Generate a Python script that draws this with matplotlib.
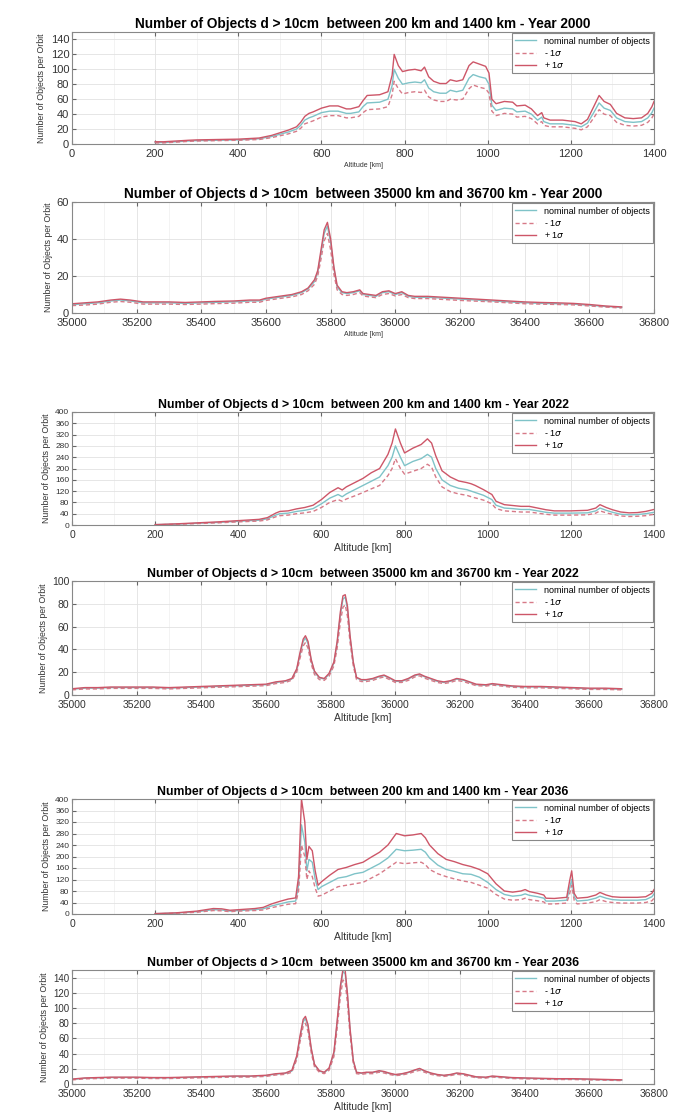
import matplotlib
matplotlib.use("Agg")
import matplotlib.pyplot as plt
from matplotlib.ticker import MultipleLocator

plt.rcParams["font.family"] = ["Liberation Sans", "DejaVu Sans"]

# ---------- LEO 2000 ----------
alt_leo_2000 = [200, 220, 250, 280, 300, 350, 400, 450, 480, 500, 520, 540, 550, 560, 570,
                580, 600, 620, 640, 660, 670, 690, 700, 710, 740, 760, 770, 775, 785, 795,
                810, 825, 840, 848, 858, 870, 885, 900, 910, 925, 940, 955, 965, 980, 995,
                1003, 1010, 1020, 1040, 1060, 1070, 1090, 1105, 1120, 1130, 1135, 1150, 1180,
                1210, 1225, 1240, 1255, 1268, 1280, 1295, 1310, 1330, 1350, 1370, 1385, 1395, 1400]
nom_leo_2000 = [2, 2, 3, 4, 4.5, 5, 5.5, 7, 10, 13, 16, 20, 25, 32, 35,
                37, 42, 44, 44, 41, 41, 43, 50, 55, 56, 60, 78, 100, 88, 80,
                82, 83, 82, 86, 75, 70, 68, 68, 72, 70, 72, 88, 93, 90, 88,
                80, 52, 45, 48, 47, 43, 44, 40, 32, 36, 30, 27, 27,
                25, 23, 28, 42, 55, 48, 45, 35, 30, 29, 30, 35, 42, 48]
hi_leo_2000 = [3, 3, 4, 5, 5.5, 6, 6.5, 8, 11.5, 15, 18.5, 23, 29, 37, 41,
               43, 48, 51, 51, 47, 47, 50, 58, 65, 66, 70, 92, 120, 105, 97,
               99, 100, 98, 103, 90, 84, 81, 81, 86, 84, 86, 105, 110, 107, 104,
               95, 60, 54, 57, 56, 51, 52, 47, 38, 42, 35, 32, 32,
               30, 27, 33, 50, 65, 57, 53, 41, 35, 34, 35, 41, 50, 57]
lo_leo_2000 = [1.5, 1.5, 2.5, 3.5, 4, 4.5, 5, 6, 8.5, 11, 13.5, 17, 21, 27, 29,
               31, 36, 38, 38, 35, 35, 37, 42, 46, 47, 50, 66, 84, 74, 67,
               69, 70, 69, 72, 63, 59, 57, 57, 60, 59, 60, 74, 79, 76, 74,
               68, 44, 38, 41, 40, 36, 37, 34, 27, 30, 25, 23, 23,
               21, 19, 23, 35, 46, 40, 38, 29, 25, 24, 25, 29, 35, 40]

# ---------- GEO 2000 ----------
alt_geo_2000 = [35000, 35040, 35080, 35120, 35150, 35180, 35220, 35260, 35300, 35350,
                35400, 35450, 35500, 35550, 35580, 35600, 35640, 35680, 35710, 35730,
                35750, 35760, 35770, 35780, 35790, 35800, 35810, 35820, 35835, 35850,
                35870, 35890, 35900, 35920, 35940, 35960, 35980, 36000, 36020, 36040,
                36060, 36100, 36150, 36200, 36250, 36300, 36350, 36400, 36450, 36500,
                36550, 36600, 36650, 36700]
nom_geo_2000 = [4.5, 5, 5.5, 6.5, 7, 6.5, 5.5, 5.5, 5.5, 5.2,
                5.5, 5.8, 6, 6.5, 6.5, 7.5, 8.5, 9.5, 11, 13,
                17, 22, 32, 43, 47, 38, 24, 14, 11, 10.5,
                11, 12, 10, 9.5, 9, 11, 11.5, 10, 11, 9,
                8.5, 8.5, 8, 7.5, 7, 6.5, 6, 5.5, 5.2, 5,
                4.8, 4.2, 3.5, 3]
hi_geo_2000 = [5, 5.5, 6, 7, 7.5, 7, 6, 6, 6, 5.7,
               6, 6.3, 6.5, 7, 7, 8, 9, 10, 11.5, 13.5,
               18, 23, 34, 45, 49, 40, 25, 15, 11.5, 11,
               11.5, 12.5, 10.5, 10, 9.5, 11.5, 12, 10.5, 11.5, 9.5,
               9, 9, 8.5, 8, 7.5, 7, 6.5, 6, 5.7, 5.5,
               5.2, 4.6, 3.8, 3.3]
lo_geo_2000 = [4, 4.3, 4.8, 5.8, 6.2, 5.8, 4.8, 4.8, 4.8, 4.6,
               4.8, 5.1, 5.3, 5.8, 5.8, 6.8, 7.8, 8.7, 10, 12,
               15.5, 20, 29, 39, 43, 34, 21, 12.5, 10, 9.5,
               10, 11, 9.2, 8.7, 8.3, 10, 10.5, 9.2, 10, 8.3,
               7.8, 7.8, 7.3, 6.8, 6.4, 6, 5.5, 5, 4.8, 4.6,
               4.4, 3.8, 3.2, 2.7]

# ---------- LEO 2022 ----------
alt_leo_2022 = [200, 250, 300, 350, 400, 450, 470, 490, 500, 520, 540, 560, 580, 600, 620,
                640, 650, 660, 680, 700, 720, 740, 760, 770, 778, 790, 800, 820, 840, 855,
                865, 875, 890, 910, 930, 950, 960, 970, 990, 1010, 1020, 1040, 1060, 1080,
                1100, 1120, 1140, 1160, 1200, 1240, 1260, 1270, 1285, 1300, 1320, 1340,
                1360, 1380, 1400]
nom_leo_2022 = [1, 3, 6, 9, 13, 17, 22, 35, 40, 42, 48, 52, 58, 75, 95,
                108, 100, 110, 125, 140, 155, 170, 210, 240, 280, 240, 210, 225, 235, 250,
                240, 200, 160, 140, 130, 125, 120, 115, 105, 90, 70, 60, 58, 55,
                55, 50, 45, 42, 42, 43, 50, 60, 52, 45, 38, 36,
                37, 40, 45]
hi_leo_2022 = [1.5, 4, 7.5, 11, 15.5, 20, 26, 42, 48, 50, 57, 62, 70, 90, 115,
               132, 124, 135, 150, 165, 185, 200, 250, 290, 340, 290, 255, 272, 285, 305,
               290, 245, 192, 170, 156, 150, 146, 140, 125, 108, 84, 72, 69, 66,
               66, 60, 54, 50, 50, 52, 60, 72, 62, 54, 46, 43,
               44, 48, 55]
lo_leo_2022 = [0.5, 2.5, 5, 7.5, 11, 14, 18, 29, 33, 35, 40, 43, 48, 62, 80,
               90, 84, 92, 103, 115, 128, 140, 175, 200, 235, 200, 180, 190, 200, 215,
               205, 170, 135, 118, 110, 105, 100, 96, 88, 75, 58, 50, 48, 46,
               46, 42, 38, 35, 35, 36, 42, 50, 43, 38, 32, 30,
               31, 33, 38]

# ---------- GEO 2022 / 2036 (same altitude bins) ----------
alt_geo_2022 = [35000, 35040, 35080, 35120, 35160, 35200, 35250, 35300, 35350, 35400,
                35450, 35500, 35550, 35600, 35630, 35660, 35680, 35695, 35705, 35715,
                35722, 35730, 35740, 35750, 35765, 35780, 35795, 35810, 35820, 35830,
                35838, 35845, 35852, 35860, 35870, 35880, 35895, 35910, 35930, 35950,
                35965, 35980, 36000, 36020, 36040, 36060, 36075, 36090, 36110, 36130,
                36150, 36170, 36190, 36210, 36230, 36250, 36280, 36300, 36330, 36360,
                36400, 36450, 36500, 36550, 36600, 36650, 36700]
nom_geo_2022 = [5, 6, 6, 6.5, 6.5, 6.5, 6.5, 6, 6.5, 7,
                7.5, 8, 8.5, 9, 11, 12, 14, 22, 35, 47,
                50, 45, 30, 20, 15, 14, 18, 28, 45, 70,
                84, 86, 75, 50, 28, 15, 13, 13, 14, 16,
                17, 15, 12, 12, 14, 17, 18, 16, 14, 12,
                11, 12, 14, 13, 11, 9, 8.5, 9.5, 8.5, 7.5,
                7, 7, 6.5, 6, 5.5, 5.5, 5]
hi_geo_2022 = [5.5, 6.5, 6.5, 7, 7, 7, 7, 6.5, 7, 7.5,
               8, 8.5, 9, 9.5, 11.5, 12.5, 14.5, 23, 37, 49,
               52, 47, 31, 21, 15.5, 14.5, 19, 29, 47, 73,
               87, 88, 78, 52, 29, 15.5, 13.5, 13.5, 14.5, 16.5,
               17.5, 15.5, 12.5, 12.5, 14.5, 17.5, 18.5, 16.5, 14.5, 12.5,
               11.5, 12.5, 14.5, 13.5, 11.5, 9.5, 9, 10, 9, 8,
               7.5, 7.5, 7, 6.5, 6, 6, 5.5]
lo_geo_2022 = [4.5, 5.3, 5.3, 5.8, 5.8, 5.8, 5.8, 5.3, 5.8, 6.3,
               6.8, 7.2, 7.7, 8.2, 10, 11, 13, 20, 32, 43,
               46, 41, 27, 18, 13.5, 12.8, 16.5, 25.5, 41, 64,
               77, 79, 69, 46, 25.5, 13.5, 11.8, 11.8, 12.8, 14.8,
               15.8, 13.8, 11, 11, 12.8, 15.8, 16.8, 14.8, 12.8, 11,
               10, 11, 12.8, 11.8, 10, 8.2, 7.8, 8.7, 7.8, 6.8,
               6.3, 6.3, 5.8, 5.4, 4.9, 4.9, 4.5]

# ---------- LEO 2036 ----------
alt_leo_2036 = [200, 250, 300, 340, 360, 380, 400, 440, 460, 480, 500, 520, 538, 545, 552,
                560, 565, 570, 578, 585, 592, 600, 620, 640, 660, 680, 700, 720, 740, 760,
                780, 800, 820, 840, 850, 860, 880, 900, 920, 940, 960, 980, 1000, 1020, 1040,
                1060, 1080, 1090, 1100, 1120, 1135, 1140, 1160, 1190, 1197, 1202, 1208, 1215,
                1240, 1260, 1270, 1285, 1300, 1320, 1360, 1380, 1395, 1400]
nom_leo_2036 = [1, 3, 8, 15, 14, 10, 12, 15, 18, 28, 35, 42, 45, 100, 310,
                250, 150, 190, 180, 120, 85, 95, 110, 125, 130, 140, 145, 160, 175, 195,
                225, 220, 222, 225, 215, 195, 170, 155, 148, 140, 138, 128, 110, 85, 68,
                62, 65, 70, 65, 60, 55, 45, 45, 48, 90, 120, 60, 45,
                48, 55, 62, 55, 50, 48, 48, 50, 60, 70]
hi_leo_2036 = [1.5, 4, 10, 19, 18, 13, 15, 19, 23, 35, 44, 52, 56, 130, 400,
               320, 190, 235, 220, 150, 100, 112, 135, 155, 162, 172, 180, 198, 215, 240,
               280, 272, 275, 280, 265, 240, 210, 190, 182, 172, 165, 155, 140, 105, 80,
               76, 80, 85, 78, 72, 66, 55, 54, 58, 115, 150, 72, 55,
               58, 66, 75, 66, 60, 58, 58, 60, 72, 85]
lo_leo_2036 = [0.5, 2.5, 6, 12, 11, 8, 10, 12, 14, 22, 28, 34, 36, 80, 240,
               200, 120, 150, 130, 90, 62, 65, 80, 95, 100, 105, 110, 125, 140, 160,
               180, 175, 178, 180, 172, 155, 140, 130, 122, 115, 110, 100, 90, 68, 52,
               48, 50, 55, 50, 46, 42, 35, 35, 38, 70, 100, 48, 35,
               38, 43, 50, 43, 40, 38, 38, 40, 46, 55]

# ---------- GEO 2036 ----------
nom_geo_2036 = [6, 7.5, 8, 8.5, 8.5, 8.5, 8, 8, 8.5, 9,
                9.5, 10, 10, 11, 13, 14, 17, 35, 60, 82,
                86, 75, 45, 25, 17, 15, 20, 40, 80, 125,
                148, 145, 115, 70, 30, 15, 14, 15, 15, 17,
                16, 14, 12, 13, 15, 18, 20, 17, 14, 12,
                11, 12, 14, 13, 11, 9, 8.5, 10, 9, 8,
                7.5, 7, 6.5, 6.5, 6, 5.5, 5]
hi_geo_2036 = [6.5, 8, 8.5, 9, 9, 9, 8.5, 8.5, 9, 9.5,
               10, 10.5, 10.5, 11.5, 13.5, 14.5, 18, 37, 63, 85,
               89, 78, 47, 26, 17.5, 15.5, 21, 42, 83, 129,
               151, 149, 119, 73, 31, 15.5, 14.5, 15.5, 15.5, 17.5,
               16.5, 14.5, 12.5, 13.5, 15.5, 18.5, 20.5, 17.5, 14.5, 12.5,
               11.5, 12.5, 14.5, 13.5, 11.5, 9.5, 9, 10.5, 9.5, 8.5,
               8, 7.5, 7, 7, 6.5, 6, 5.5]
lo_geo_2036 = [5.4, 6.8, 7.2, 7.7, 7.7, 7.7, 7.2, 7.2, 7.7, 8.2,
               8.6, 9.1, 9.1, 10, 11.8, 12.7, 15.5, 32, 55, 76,
               80, 69, 41, 22.5, 15.5, 13.6, 18, 36, 73, 115,
               137, 134, 106, 64, 27, 13.6, 12.7, 13.6, 13.6, 15.5,
               14.5, 12.7, 11, 11.8, 13.6, 16.4, 18, 15.5, 12.7, 11,
               10, 11, 12.8, 11.8, 10, 8.2, 7.8, 9.1, 8.2, 7.2,
               6.8, 6.4, 5.9, 5.9, 5.4, 5, 4.5]

C_NOM = "#7fc3c8"
C_LO = "#d77a88"
C_HI = "#cd5668"

fig = plt.figure(figsize=(6.83, 11.18), dpi=100)
H = 1118.0
W = 683.0


def make_ax(top_px, bot_px):
    return fig.add_axes([72 / W, 1 - bot_px / H, 582 / W, (bot_px - top_px) / H])


def panel(ax, alt, nom, lo, hi, title, geo, ymax, ystep, title_size, xt_size, yt_size, xl_size):
    ax.plot(alt, nom, color=C_NOM, lw=1.0, label="nominal number of objects")
    ax.plot(alt, lo, color=C_LO, lw=1.0, ls=(0, (3, 2)), label="- 1$\\sigma$")
    ax.plot(alt, hi, color=C_HI, lw=1.0, label="+ 1$\\sigma$")
    if geo:
        ax.set_xlim(35000, 36800)
    else:
        ax.set_xlim(0, 1400)
    ax.xaxis.set_major_locator(MultipleLocator(200))
    ax.xaxis.set_minor_locator(MultipleLocator(100))
    ax.set_ylim(0, ymax)
    ax.yaxis.set_major_locator(MultipleLocator(ystep))
    ax.grid(True, which="major", color="#e2e2e2", lw=0.6)
    ax.grid(True, which="minor", axis="x", color="#efefef", lw=0.5)
    ax.set_axisbelow(True)
    ax.tick_params(which="both", direction="in", top=True, right=True,
                   colors="#666666", labelcolor="#333333", length=3)
    ax.tick_params(axis="x", labelsize=xt_size)
    ax.tick_params(axis="y", labelsize=yt_size, pad=2)
    ax.tick_params(which="minor", length=0)
    for s in ax.spines.values():
        s.set_color("#888888")
        s.set_linewidth(0.8)
    ax.set_title(title, fontsize=title_size, fontweight="bold", pad=3)
    ax.set_xlabel("Altitude [km]", fontsize=xl_size, color="#333333", labelpad=2)
    ax.set_ylabel("Number of Objects per Orbit", fontsize=6.3, color="#333333", labelpad=3)
    leg = ax.legend(loc="upper right", bbox_to_anchor=(1.0, 1.0), fontsize=6.5,
                    borderaxespad=0.15, handlelength=2.4, labelspacing=0.25,
                    borderpad=0.35, fancybox=False, framealpha=1, edgecolor="#888888")
    leg.get_frame().set_linewidth(0.8)


ax1 = make_ax(32, 144)
panel(ax1, alt_leo_2000, nom_leo_2000, lo_leo_2000, hi_leo_2000,
      "Number of Objects d > 10cm  between 200 km and 1400 km - Year 2000",
      False, 150, 20, 9.8, 8, 8, 5)
ax2 = make_ax(202, 313)
panel(ax2, alt_geo_2000, nom_geo_2000, lo_geo_2000, hi_geo_2000,
      "Number of Objects d > 10cm  between 35000 km and 36700 km - Year 2000",
      True, 60, 20, 9.8, 8, 8, 5)
ax3 = make_ax(412, 525)
panel(ax3, alt_leo_2022, nom_leo_2022, lo_leo_2022, hi_leo_2022,
      "Number of Objects d > 10cm  between 200 km and 1400 km - Year 2022",
      False, 400, 40, 8.8, 7.5, 6, 7.5)
ax4 = make_ax(581, 695)
panel(ax4, alt_geo_2022, nom_geo_2022, lo_geo_2022, hi_geo_2022,
      "Number of Objects d > 10cm  between 35000 km and 36700 km - Year 2022",
      True, 100, 20, 8.8, 7.5, 7.5, 7.5)
ax5 = make_ax(799, 914)
panel(ax5, alt_leo_2036, nom_leo_2036, lo_leo_2036, hi_leo_2036,
      "Number of Objects d > 10cm  between 200 km and 1400 km - Year 2036",
      False, 400, 40, 8.8, 7.5, 6, 7.5)
ax6 = make_ax(970, 1084)
panel(ax6, alt_geo_2022, nom_geo_2036, lo_geo_2036, hi_geo_2036,
      "Number of Objects d > 10cm  between 35000 km and 36700 km - Year 2036",
      True, 150, 20, 8.8, 7.5, 7, 7.5)
ax6.set_yticks(range(0, 141, 20))

fig.savefig("out.png", dpi=100)
